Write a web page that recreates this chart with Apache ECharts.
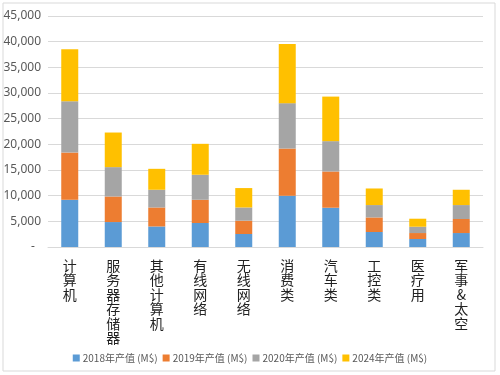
<!DOCTYPE html>
<html>
<head>
<meta charset="utf-8">
<script src="https://cdn.jsdelivr.net/npm/echarts@6/dist/echarts.min.js"></script>
<style>
  html, body { margin: 0; padding: 0; background: #fff; }
  #chart { width: 500px; height: 375px; }
</style>
</head>
<body>
<div id="chart"></div>
<script>
const categories = ["计算机", "服务器存储器", "其他计算机", "有线网络", "无线网络", "消费类", "汽车类", "工控类", "医疗用", "军事&太空"];
const seriesNames = ["2018年产值 (M$)", "2019年产值 (M$)", "2020年产值 (M$)", "2024年产值 (M$)"];
const values2018 = [9200, 4860, 4000, 4670, 2530, 9980, 7650, 2920, 1560, 2720];
const values2019 = [9200, 4980, 3700, 4530, 2590, 9200, 7060, 2840, 1160, 2730];
const values2020 = [10000, 5720, 3450, 4870, 2580, 8840, 5910, 2410, 1230, 2720];
const values2024 = [10100, 6740, 4080, 6030, 3780, 11530, 8680, 3230, 1560, 2980];
const colors = ["#5B9BD5", "#ED7D31", "#A5A5A5", "#FFC000"];

const chart = echarts.init(document.getElementById("chart"), null, { renderer: "canvas" });

const allValues = [values2018, values2019, values2020, values2024];

chart.setOption({
  backgroundColor: "#fff",
  animation: false,
  grid: { left: 48, right: 17, top: 16, bottom: 128 },
  graphic: [
    {
      type: "rect",
      shape: { x: 3, y: 3, width: 492, height: 368 },
      style: { fill: "none", stroke: "#D9D9D9", lineWidth: 1 },
      silent: true
    }
  ],
  legend: {
    data: seriesNames,
    left: "center",
    top: 348,
    icon: "rect",
    itemWidth: 7,
    itemHeight: 7,
    itemGap: 5,
    itemStyle: { borderWidth: 0 },
    textStyle: { fontSize: 10, color: "#595959", fontFamily: "Noto Sans CJK SC", padding: [0, 0, 0, -2] }
  },
  xAxis: {
    type: "category",
    data: categories,
    axisLine: { lineStyle: { color: "#D9D9D9" } },
    axisTick: { show: false },
    axisLabel: {
      interval: 0,
      margin: 11,
      fontSize: 14,
      lineHeight: 14.5,
      color: "#222",
      fontFamily: "Noto Sans CJK SC",
      verticalAlign: "top",
      formatter: v => v.split("").join("\n")
    }
  },
  yAxis: {
    type: "value",
    min: 0,
    max: 45000,
    interval: 5000,
    axisLine: { show: false },
    axisTick: { show: false },
    splitLine: { lineStyle: { color: "#D9D9D9" } },
    axisLabel: {
      fontSize: 12,
      color: "#595959",
      fontFamily: "Noto Sans",
      margin: 7,
      formatter: v => v === 0 ? "-  " : v.toLocaleString("en-US")
    }
  },
  series: seriesNames.map((name, i) => ({
    name,
    type: "bar",
    stack: "total",
    barWidth: 17,
    itemStyle: { color: colors[i] },
    data: allValues[i]
  }))
});
</script>
</body>
</html>
